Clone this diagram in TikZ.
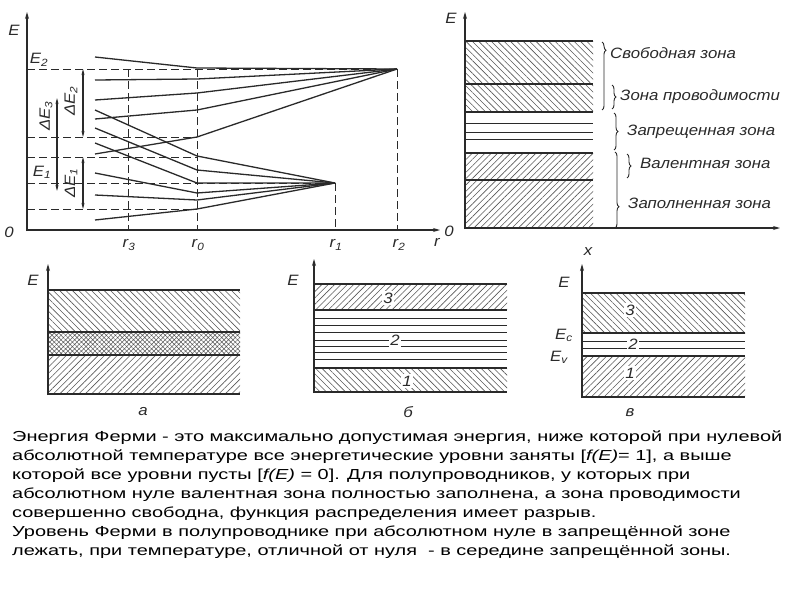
\documentclass[tikz,border=0pt]{standalone}
\usepackage{fontspec}
\setmainfont{Liberation Sans}
\newfontfamily\bodyfont[FakeStretch=1.375]{Liberation Sans}
\newfontfamily\gostfont[FakeStretch=1.12]{Liberation Sans}
\usetikzlibrary{arrows.meta,patterns.meta,decorations.pathreplacing,positioning}
\definecolor{ink}{HTML}{2A2A2A}
\definecolor{hatchgray}{HTML}{585858}
\tikzset{
  lvl/.style={ink, line width=1.3pt},
  dsh/.style={ink, line width=1pt, dash pattern=on 8pt off 4pt},
  band/.style={ink, line width=1.7pt},
  thinlvl/.style={ink, line width=0.9pt},
  hatchNE/.style={pattern={Lines[angle=45,distance=4.5pt,line width=0.6pt]}, pattern color=hatchgray},
  hatchNW/.style={pattern={Lines[angle=-45,distance=4.5pt,line width=0.6pt]}, pattern color=hatchgray},
  xhatch/.style={pattern={Hatch[angle=45,distance=3.2pt,line width=0.5pt]}, pattern color=hatchgray},
  lbl/.style={font=\gostfont\itshape\fontsize{15}{15}\selectfont, text=ink, inner sep=0pt},
  num/.style={lbl, fill=white, inner sep=1.5pt},
  brc/.style={ink, line width=0.9pt, decorate, decoration={brace, amplitude=4pt}},
  ax/.style={ink, line width=1.5pt, -{Stealth[length=7pt,width=4pt]}},
  dim/.style={ink, line width=1.2pt, {Stealth[length=6pt,width=3pt]}-{Stealth[length=6pt,width=3pt]}},
}
\begin{document}
\begin{tikzpicture}[x=1pt,y=-1pt]
\useasboundingbox[fill=white] (0,0) rectangle (800,600);
% ---- splitting of levels E1, E2 versus r
\draw[dsh] (27,69) -- (397,69);
\draw[dsh] (27,137) -- (197,137);
\draw[dsh] (27,157) -- (197,157);
\draw[dsh] (27,183) -- (335,183);
\draw[dsh] (27,209) -- (197,209);
\draw[dsh] (128,69) -- (128,230);
\draw[dsh] (197,69) -- (197,230);
\draw[dsh] (335,183) -- (335,230);
\draw[dsh] (397,69) -- (397,230);
% upper band
\foreach \ya/\yb in {57/68, 80/79, 100/93, 119/110, 154/137}
  \draw[lvl] (95,\ya) -- (197,\yb) -- (397,69);
% lower band
\foreach \ya/\yb in {110/156, 128/170, 143/183, 173/193, 195/200, 220/209}
  \draw[lvl] (95,\ya) -- (197,\yb) -- (335,183);
% axes
\draw[ax] (27,231) -- (27,12);
\draw[ax] (27,230) -- (440,230);
\node[lbl] (e0) at (14,30) {E};
\node[lbl] (o0) at (9,232) {0};
\node[lbl] (e2) at (39,60) {E\textsubscript{2}};
\node[lbl] (e1) at (42,172) {E\textsubscript{1}};
% band widths
\draw[dim] (83,69) -- (83,137);
\draw[dim] (83,157) -- (83,209);
\draw[dim] (57,98) -- (57,191);
\node[lbl, rotate=90] (de2) at (71,101) {ΔE\textsubscript{2}};
\node[lbl, rotate=90] (de1) at (71,183) {ΔE\textsubscript{1}};
\node[lbl, rotate=90] (de3) at (46,116) {ΔE\textsubscript{3}};
\node[lbl] (r3) at (129,245) {r\textsubscript{3}};
\node[lbl] (r0) at (198,245) {r\textsubscript{0}};
\node[lbl] (r1) at (336,245) {r\textsubscript{1}};
\node[lbl] (r2) at (399,245) {r\textsubscript{2}};
\node[lbl] (rr) at (437,242) {r};
% ---- zone scheme
\fill[hatchNW] (465,41) rectangle (593,112);
\fill[hatchNE] (465,153) rectangle (593,228);
\foreach \y in {41,84,112,153,180}
  \draw[band] (465,\y) -- (593,\y);
\foreach \y in {123,132,139}
  \draw[thinlvl] (465,\y) -- (593,\y);
\draw[ax] (465,229) -- (465,12);
\draw[ax] (465,228) -- (780,228);
\node[lbl] (e5) at (451,18) {E};
\node[lbl] (o5) at (449,231) {0};
\node[lbl] (x5) at (588,252) {x};
\draw[brc, decoration={aspect=0.12}] (602,42) -- (602,110);
\draw[brc] (612,85) -- (612,109);
\draw[brc] (614,113) -- (614,150);
\draw[brc] (627,154) -- (627,178);
\draw[brc, decoration={aspect=0.72}] (615,152) -- (615,228);
\node[lbl, anchor=west] (free) at (610,53) {Свободная зона};
\node[lbl, anchor=west] (cond) at (620,97) {Зона проводимости};
\node[lbl, anchor=west] (gap) at (627,132) {Запрещенная зона};
\node[lbl, anchor=west] (val) at (640,163) {Валентная зона};
\node[lbl, anchor=west] (full) at (628,203) {Заполненная зона};
% ---- metal
\fill[hatchNW] (48,290) rectangle (240,332);
\fill[xhatch] (48,332) rectangle (240,355);
\fill[hatchNE] (48,355) rectangle (240,394);
\foreach \y in {290,332,355,394}
  \draw[band] (48,\y) -- (240,\y);
\draw[ax] (48,395) -- (48,264);
\node[lbl] (ea) at (33,280) {E};
\node[lbl] (ca) at (143,412) {а};
% ---- insulator
\fill[hatchNE] (314,284) rectangle (507,310);
\fill[hatchNW] (314,368) rectangle (507,392);
\foreach \y in {318,325,332,340,346,352,359}
  \draw[thinlvl] (314,\y) -- (507,\y);
\foreach \y in {284,310,368,392}
  \draw[band] (314,\y) -- (507,\y);
\draw[ax] (314,393) -- (314,259);
\node[lbl] (eb) at (293,280) {E};
\node[num] (b3) at (388,298) {3};
\node[num] (b2) at (395,340) {2};
\node[num] (b1) at (407,381) {1};
\node[lbl] (cb) at (408,412) {б};
% ---- semiconductor
\fill[hatchNW] (582,293) rectangle (745,333);
\fill[hatchNE] (582,356) rectangle (745,397);
\foreach \y in {341,348}
  \draw[thinlvl] (582,\y) -- (745,\y);
\foreach \y in {293,333,356,397}
  \draw[band] (582,\y) -- (745,\y);
\draw[ax] (582,398) -- (582,264);
\node[lbl] (ev) at (564,282) {E};
\node[lbl] (ec) at (564,335) {E\textsubscript{c}};
\node[lbl] (evv) at (559,357) {E\textsubscript{v}};
\node[num] (v3) at (630,310) {3};
\node[num] (v2) at (633,344) {2};
\node[num] (v1) at (630,373) {1};
\node[lbl] (cv) at (630,413) {в};
% ---- text
\node[anchor=north west, align=left, inner sep=0pt, text=black,
      font=\bodyfont\fontsize{14.5}{19}\selectfont] (txt) at (12,431)
{Энергия Ферми - это максимально допустимая энергия, ниже которой при нулевой\\
абсолютной температуре все энергетические уровни заняты [\textit{f(E)}= 1], а выше\\
которой все уровни пусты [\textit{f(E)} = 0]. Для полупроводников, у которых при\\
абсолютном нуле валентная зона полностью заполнена, а зона проводимости\\
совершенно свободна, функция распределения имеет разрыв.\\
Уровень Ферми в полупроводнике при абсолютном нуле в запрещённой зоне\\
лежать, при температуре, отличной от нуля\ \ - в середине запрещённой зоны.};
\end{tikzpicture}
\end{document}
